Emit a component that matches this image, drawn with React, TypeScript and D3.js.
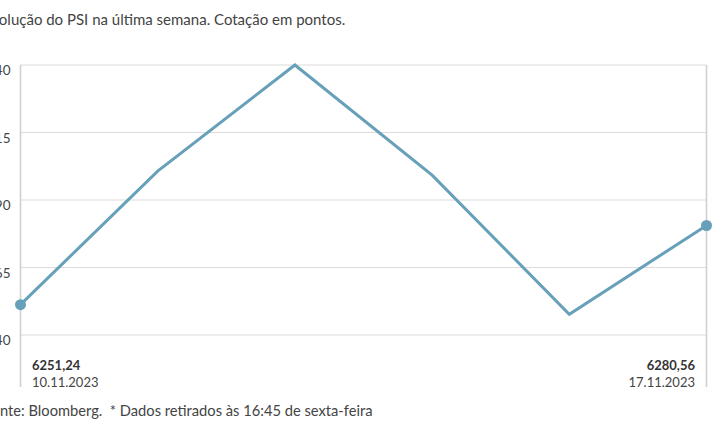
import React from "react";
import * as d3 from "d3";

const dates = ["10.11.2023", "13.11.2023", "14.11.2023", "15.11.2023", "16.11.2023", "17.11.2023"];
const values = [6251.24, 6300.7, 6340, 6299.2, 6247.7, 6280.56];
const ticks = [6240, 6265, 6290, 6315, 6340];
const title = "Evolução do PSI na última semana. Cotação em pontos.";
const footer = "Fonte: Bloomberg.\u00a0 * Dados retirados às 16:45 de sexta-feira";
const firstLabel = "6251,24";
const lastLabel = "6280,56";

const W = 715;
const H = 445;
const FONT = "Lato, 'Open Sans', sans-serif";

export default function App() {
  const x = d3.scalePoint<string>().domain(dates).range([20.5, 706.5]);
  const y = d3.scaleLinear().domain([6240, 6340]).range([335, 65]);
  const line = d3
    .line<number>()
    .x((_, i) => x(dates[i]) as number)
    .y((d) => y(d));
  const first = dates[0];
  const last = dates[dates.length - 1];
  return (
    <svg
      width={W}
      height={H}
      style={{ position: "absolute", left: 0, top: 0, background: "#fff" }}
      fontFamily={FONT}
    >
      <text x={-17} y={25} fontSize={15} fill="#444">
        {title}
      </text>
      {ticks.map((t) => (
        <g key={t}>
          <line x1={x(first)} x2={x(last)} y1={y(t)} y2={y(t)} stroke="#dcdcdc" strokeWidth={1.2} />
          <text x={10.5} y={y(t) + 10} fontSize={13.5} fill="#444" textAnchor="end">
            {String(t)}
          </text>
        </g>
      ))}
      <line x1={x(first)} x2={x(first)} y1={y(6340)} y2={387} stroke="#d0d0d0" strokeWidth={1.6} />
      <line x1={x(last)} x2={x(last)} y1={y(6340)} y2={387} stroke="#d0d0d0" strokeWidth={1.6} />
      <path d={line(values) || ""} fill="none" stroke="#67a0b9" strokeWidth={3} strokeLinejoin="miter" />
      <circle cx={x(first)} cy={y(values[0])} r={5.5} fill="#67a0b9" />
      <circle cx={x(last)} cy={y(values[values.length - 1])} r={5.5} fill="#67a0b9" />
      <text x={32} y={370} fontSize={13} fontWeight="bold" fill="#333">
        {firstLabel}
      </text>
      <text x={32} y={387} fontSize={13} fill="#444">
        {first}
      </text>
      <text x={695} y={370} fontSize={13} fontWeight="bold" fill="#333" textAnchor="end">
        {lastLabel}
      </text>
      <text x={695} y={387} fontSize={13} fill="#444" textAnchor="end">
        {last}
      </text>
      <text x={-16} y={416} fontSize={14.7} fill="#444">
        {footer}
      </text>
    </svg>
  );
}
